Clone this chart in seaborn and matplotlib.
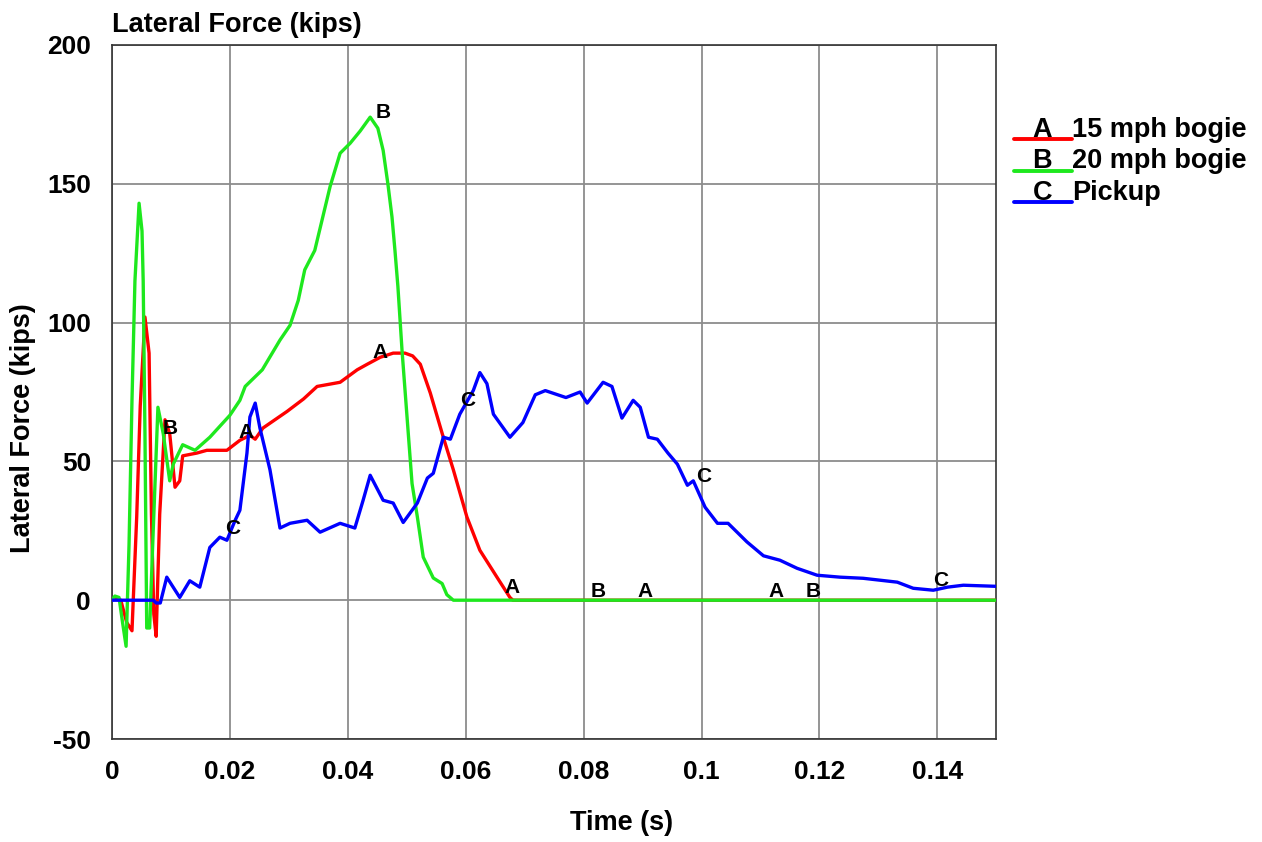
import numpy as np
import pandas as pd
import matplotlib
matplotlib.use("Agg")
import matplotlib.pyplot as plt
import seaborn as sns

t_a = [0, 0.0007, 0.0015, 0.0025, 0.0034, 0.0042, 0.0048, 0.0056, 0.0063, 0.0067, 0.0071,
       0.0075, 0.0081, 0.009, 0.0098, 0.0107, 0.0115, 0.012, 0.0144, 0.0161, 0.0195, 0.0217,
       0.0234, 0.0243, 0.0256, 0.0297, 0.0325, 0.0348, 0.0387, 0.0416, 0.0433, 0.0455, 0.0477,
       0.0497, 0.051, 0.0523, 0.054, 0.0562, 0.0579, 0.0602, 0.0624, 0.0653, 0.0675, 0.068, 0.15]
f_a = [0, 1, 0, -8, -11, 30, 70, 102, 89, 31, -5, -13, 31, 65, 60, 40.7, 43, 52, 53, 54, 54,
       57.6, 59.4, 58, 62, 68, 72.5, 77, 78.5, 83, 85, 87.5, 89, 89, 88, 85, 74.6, 58.7, 47, 30,
       18, 8.3, 1, 0, 0]

t_b = [0, 0.0005, 0.0012, 0.0018, 0.0024, 0.0029, 0.0034, 0.0039, 0.0046, 0.0051, 0.0053,
       0.0056, 0.0059, 0.0064, 0.007, 0.0078, 0.0087, 0.0098, 0.0104, 0.012, 0.0141, 0.0166,
       0.02, 0.0217, 0.0226, 0.0255, 0.0285, 0.0302, 0.0316, 0.0327, 0.0344, 0.037, 0.0387,
       0.0404, 0.0421, 0.0438, 0.0451, 0.046, 0.0468, 0.0475, 0.048, 0.0485, 0.0492, 0.0509,
       0.0518, 0.0528, 0.0545, 0.056, 0.0568, 0.0579, 0.15]
f_b = [0, 1.5, 1, -8, -16.6, 20, 72, 115, 143, 133, 115, 60, -10, -10, 25, 69.5, 60, 43, 49,
       56, 54, 58.7, 66.6, 72, 77, 83, 93.7, 99, 108, 119, 126, 149, 161, 164.6, 169, 174, 170,
       162, 150, 138, 126, 113, 90, 42, 30, 15.5, 8, 6, 2, 0, 0]

t_c = [0, 0.007, 0.0075, 0.0082, 0.0093, 0.0115, 0.0132, 0.0149, 0.0166, 0.0183, 0.0195,
       0.0209, 0.0217, 0.0229, 0.0234, 0.0243, 0.0251, 0.0268, 0.0285, 0.0302, 0.0331, 0.0353,
       0.0387, 0.0412, 0.0426, 0.0438, 0.046, 0.0477, 0.0494, 0.0518, 0.0535, 0.0545, 0.0562,
       0.0574, 0.059, 0.0613, 0.0624, 0.0636, 0.0647, 0.0675, 0.0697, 0.0718, 0.0735, 0.077,
       0.0794, 0.0806, 0.0833, 0.0848, 0.0865, 0.0884, 0.0896, 0.091, 0.0925, 0.0943, 0.0959,
       0.0976, 0.0986, 0.1006, 0.1027, 0.1045, 0.1077, 0.1105, 0.1133, 0.1162, 0.1196, 0.1235,
       0.1274, 0.1332, 0.1359, 0.1393, 0.1417, 0.1444, 0.15]
f_c = [0, 0, -1, -1, 8.3, 1, 7, 4.7, 19, 22.7, 21.6, 28.8, 32.4, 53, 66, 71, 62, 47, 26, 27.7,
       28.8, 24.5, 27.7, 26, 36, 45, 36, 35, 28, 35, 44, 45.7, 58.7, 58, 67, 75.6, 82, 78, 67,
       58.7, 64, 74, 75.5, 73, 75, 71, 78.5, 77, 65.6, 72, 69.5, 58.7, 58, 53, 49, 41.4, 43,
       33.5, 27.7, 27.7, 21, 16, 14.4, 11.5, 9, 8.3, 7.9, 6.5, 4.3, 3.6, 4.7, 5.4, 5]

names = ["15 mph bogie", "20 mph bogie", "Pickup"]
letters = ["A", "B", "C"]
colors = ["#ff0000", "#1ee81e", "#0000ff"]

# letter markers along each curve (time, force)
mark_t = {
    "A": [0.0227, 0.0455, 0.0679, 0.0904, 0.1127],
    "B": [0.0098, 0.0460, 0.0825, 0.119],
    "C": [0.0204, 0.0604, 0.1003, 0.1405],
}
mark_f = {
    "A": [60.5, 89.3, 4.7, 3.2, 3.2],
    "B": [62, 175.8, 3.2, 3.2],
    "C": [26, 72, 44.7, 7.2],
}

series = [(t_a, f_a), (t_b, f_b), (t_c, f_c)]
df = pd.concat([
    pd.DataFrame({"Time (s)": t, "Lateral Force (kips)": f, "series": n})
    for (t, f), n in zip(series, names)
])

sns.set_style("white")
plt.rcParams["font.family"] = ["Liberation Sans", "DejaVu Sans"]
plt.rcParams["axes.unicode_minus"] = False
plt.rcParams["text.color"] = "black"
plt.rcParams["axes.labelcolor"] = "black"

fig = plt.figure(figsize=(12.62, 8.42), dpi=100)
ax = fig.add_axes([0.0887, 0.1223, 0.7008, 0.8243])

sns.lineplot(data=df, x="Time (s)", y="Lateral Force (kips)", hue="series",
             palette=dict(zip(names, colors)), estimator=None, sort=False,
             linewidth=2.4, legend=False, ax=ax, zorder=3)

for letter in letters:
    for tx, fy in zip(mark_t[letter], mark_f[letter]):
        ax.text(tx, fy, letter, ha="center", va="center", fontsize=15,
                fontweight="bold", color="black", zorder=5)

ax.set_xlim(0, 0.15)
ax.set_ylim(-50, 200)
ax.set_xticks(np.arange(0, 0.15, 0.02))
ax.set_xticklabels(["0", "0.02", "0.04", "0.06", "0.08", "0.1", "0.12", "0.14"])
ax.set_xticks(np.arange(0.01, 0.15, 0.02), minor=True)
ax.set_yticks(np.arange(-50, 201, 50))
ax.set_yticks(np.arange(-25, 200, 50), minor=True)
ax.grid(True, which="major", color="#8c8c8c", linewidth=1.3)
ax.tick_params(which="major", direction="out", length=8, width=1.2, colors="#333333",
               labelcolor="black", labelsize=19, pad=7)
ax.tick_params(which="minor", direction="in", length=8, width=1.2, colors="#333333")
for lbl in ax.get_xticklabels() + ax.get_yticklabels():
    lbl.set_fontweight("bold")
for s in ax.spines.values():
    s.set_color("#333333")
    s.set_linewidth(1.2)

ax.set_xlabel("Time (s)", fontsize=19.5, fontweight="bold")
ax.set_ylabel("Lateral Force (kips)", fontsize=19.5, fontweight="bold")
ax.xaxis.set_label_coords(0.576, -0.102)
ax.yaxis.set_label_coords(-0.086, 0.448)
fig.text(0.0887, 0.962, "Lateral Force (kips)", fontsize=19.5, fontweight="bold",
         va="baseline")

# legend drawn at the right of the plot
for i, (letter, name, c) in enumerate(zip(letters, names, colors)):
    y = 0.8646 - i * 0.0455
    ax.plot([1.020, 1.086], [y, y], transform=ax.transAxes, color=c, lw=2.8,
            clip_on=False, solid_capstyle="round")
    ax.text(1.052, y + 0.003, letter, transform=ax.transAxes, ha="center", va="baseline",
            fontsize=19.5, fontweight="bold")
    ax.text(1.086, y + 0.003, name, transform=ax.transAxes, ha="left", va="baseline",
            fontsize=19.5, fontweight="bold")

fig.savefig("out.png", dpi=100)
